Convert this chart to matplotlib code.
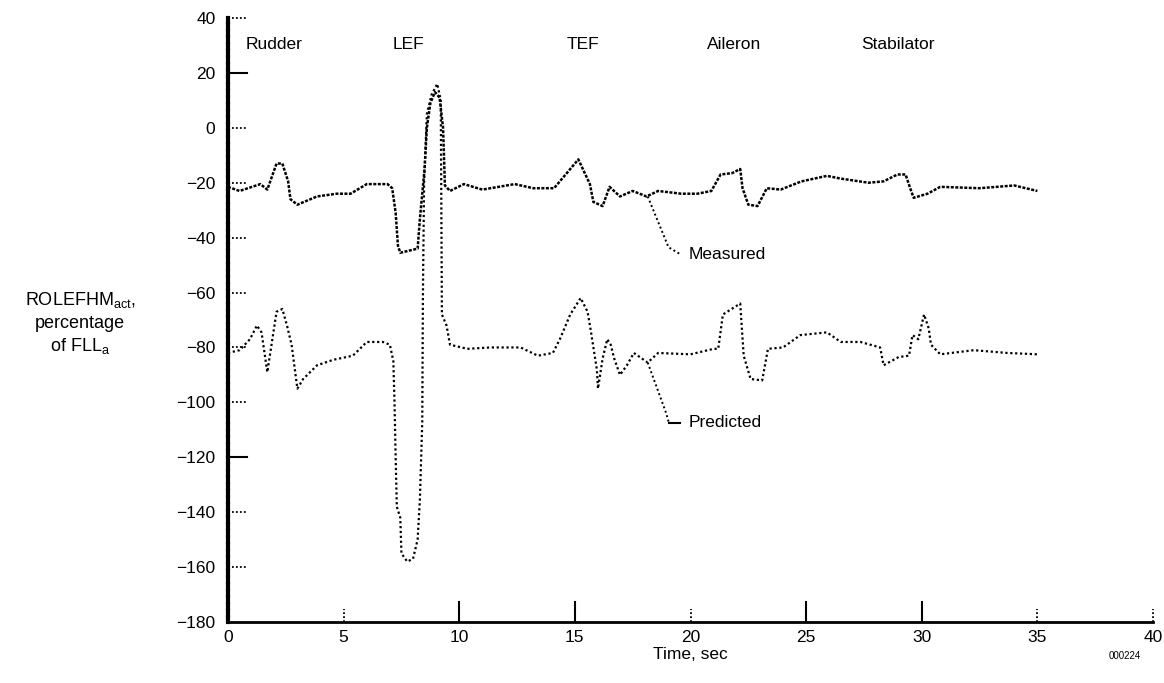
import matplotlib
matplotlib.use("Agg")
import matplotlib.pyplot as plt

# measured (upper) trace
meas_t = [0, 0.5, 1.4, 1.7, 2.1, 2.35, 2.6, 2.7, 3.0, 3.85, 4.7, 5.3, 6.0, 6.9, 7.1,
          7.25, 7.35, 7.45, 8.2, 8.3, 8.5, 8.6, 8.75, 8.95, 9.15, 9.3, 9.38, 9.6,
          10.2, 11.0, 12.4, 13.2, 14.1, 14.45, 15.15, 15.65, 15.8, 16.2, 16.5, 16.95,
          17.5, 18.1, 18.6, 19.6, 20.3, 20.9, 21.3, 21.8, 22.15, 22.25, 22.5, 22.9,
          23.3, 23.9, 24.8, 25.9, 26.5, 27.7, 28.35, 28.95, 29.3, 29.5, 29.65, 30.25,
          30.8, 32.5, 34.0, 35.0]
meas_v = [-21.5, -23, -20.5, -22.5, -13, -13, -19.5, -26, -28, -25, -24, -24, -20.5, -20.5, -22,
          -31, -43, -45.5, -44, -33, -15, 0, 9, 13, 11, 0, -21, -23,
          -20.5, -22.5, -20.5, -22, -22, -18.5, -11.5, -20.5, -27, -28.5, -21.5, -25,
          -23, -25, -23, -24, -24, -23, -17, -16.5, -15, -22, -28, -28.5,
          -22, -22.5, -19.5, -17.5, -18.5, -20, -19.5, -17, -17, -22, -25.5, -24,
          -21.5, -22, -21, -23]

# predicted (lower) trace
pred_t = [0, 0.5, 0.95, 1.25, 1.45, 1.7, 1.9, 2.1, 2.35, 2.55, 2.75, 3.0, 3.25, 3.85,
          4.55, 5.4, 6.0, 6.7, 7.0, 7.15, 7.2, 7.25, 7.3, 7.45, 7.5, 7.75, 8.0, 8.2,
          8.3, 8.4, 8.43, 8.48, 8.6, 8.8, 9.05, 9.2, 9.22, 9.25, 9.45, 9.6, 10.35,
          11.35, 12.65, 13.4, 14.05, 14.35, 14.8, 15.25, 15.55, 15.7, 15.95, 16.0,
          16.2, 16.4, 16.55, 16.7, 16.95, 17.25, 17.55, 18.15, 18.6, 20.0, 21.0, 21.2,
          21.4, 22.15, 22.3, 22.6, 23.1, 23.35, 24.0, 24.75, 25.9, 26.5, 27.35, 28.2,
          28.35, 29.0, 29.45, 29.6, 29.85, 30.1, 30.3, 30.4, 30.8, 32.25, 33.7, 35.0]
pred_v = [-82, -81, -77, -72, -74.5, -89, -78, -67, -66, -72, -79, -95, -91.5, -86.5,
          -84.5, -83, -78, -78, -79, -85, -100, -120, -138, -142, -155, -158, -157, -150,
          -135, -107, -60, -20, 5, 12, 16, 10, -20, -68, -72, -79, -80.5,
          -80, -80, -83, -82, -77, -68, -62, -67, -74.5, -88, -95,
          -84, -77, -79, -84, -90, -86.5, -82, -85.5, -82, -82.5, -80.5, -80.5,
          -68, -64, -83, -91.5, -92, -80.5, -80, -75.5, -74.5, -78, -78, -80,
          -86.5, -83.5, -83, -75.5, -77, -68, -73, -79, -82.5, -81, -82, -82.5]

# surface labels along the top
surf_names = ["Rudder", "LEF", "TEF", "Aileron", "Stabilator"]
surf_t = [0.75, 7.1, 14.65, 20.7, 27.4]

# axis ticks and which ones are drawn solid
x_ticks = [0, 5, 10, 15, 20, 25, 30, 35, 40]
x_solid = [None, False, True, True, False, True, True, False, False]
y_ticks = [40, 20, 0, -20, -40, -60, -80, -100, -120, -140, -160, -180]
y_solid = [False, True, False, False, False, False, False, False, True, False, False, None]

plt.rcParams['font.family'] = ['Liberation Sans', 'DejaVu Sans']

fig = plt.figure(figsize=(11.64, 6.83), dpi=100)
ax = fig.add_axes([228 / 1164, 61 / 683, 925 / 1164, 604 / 683])

ax.plot(meas_t, meas_v, color='black', lw=1.8, ls=(0, (1.2, 0.6)))
ax.plot(pred_t, pred_v, color='black', lw=1.6, ls=(0, (1, 1.2)))

ax.set_xlim(0, 40)
ax.set_ylim(-180, 40)
ax.set_xticks(x_ticks)
ax.set_yticks(y_ticks)
ax.set_yticklabels([str(v).replace('-', '\u2212') for v in y_ticks])
ax.tick_params(length=0, labelsize=12.5)
ax.tick_params(axis='y', pad=9)
ax.tick_params(axis='x', pad=6)

for s in ['top', 'right']:
    ax.spines[s].set_visible(False)
ax.spines['left'].set_linewidth(3)
ax.spines['left'].set_linestyle((0, (1.1, 0.5)))
ax.spines['bottom'].set_linewidth(2)

# tick marks pointing into the plot
tx = ax.get_xaxis_transform()
ty = ax.get_yaxis_transform()
for t, solid in zip(x_ticks, x_solid):
    if solid is None:
        continue
    if solid:
        ax.plot([t, t], [0, 0.033], transform=tx, color='black', lw=1.5, clip_on=False)
    else:
        ax.plot([t, t], [0, 0.022], transform=tx, color='black', lw=1.3, ls=(0, (1, 1.2)), clip_on=False)
for v, solid in zip(y_ticks, y_solid):
    if solid is None:
        continue
    if solid:
        ax.plot([0, 0.021], [v, v], transform=ty, color='black', lw=1.5, clip_on=False)
    else:
        ax.plot([0, 0.019], [v, v], transform=ty, color='black', lw=1.3, ls=(0, (1, 1.2)), clip_on=False)

for name, t in zip(surf_names, surf_t):
    ax.text(t, 30.5, name, fontsize=12.5, ha='left', va='center')

# leader lines to the trace names
ax.plot([18.15, 19.05, 19.55], [-25, -43.5, -46], color='black', lw=1.4, ls=(0, (1, 1.4)))
ax.text(19.9, -46, "Measured", fontsize=12.5, ha='left', va='center')
ax.plot([18.15, 18.95, 19.05], [-85.5, -104, -107], color='black', lw=1.4, ls=(0, (1, 1.4)))
ax.plot([19.05, 19.55], [-107.5, -107.5], color='black', lw=1.5)
ax.text(19.9, -107.5, "Predicted", fontsize=12.5, ha='left', va='center')

ax.set_xlabel("Time, sec", fontsize=12.5, labelpad=1)

fig.text(80 / 1164, 1 - 300 / 683, r"ROLEFHM$_{\mathregular{act}}$,", fontsize=13, ha='center', va='center')
fig.text(80 / 1164, 1 - 323 / 683, "percentage", fontsize=13, ha='center', va='center')
fig.text(80 / 1164, 1 - 346 / 683, r"of FLL$_{\mathregular{a}}$", fontsize=13, ha='center', va='center')

fig.text(1125 / 1164, 1 - 656 / 683, "000224", fontsize=7, ha='center', va='center')

fig.savefig("out.png", dpi=100, facecolor='white')
